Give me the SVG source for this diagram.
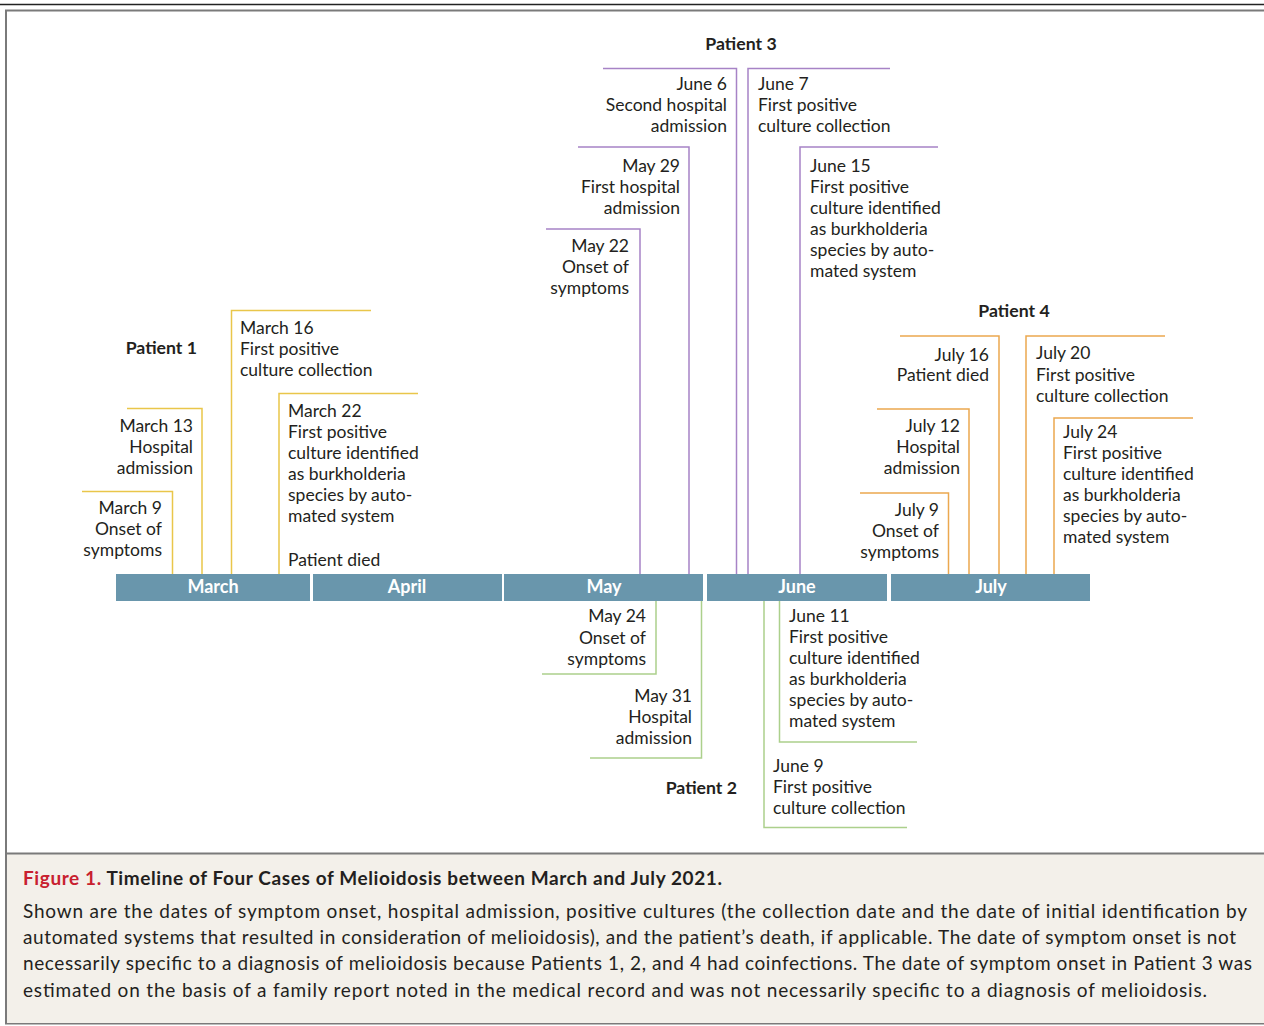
<svg xmlns="http://www.w3.org/2000/svg" width="1264" height="1026" viewBox="0 0 1264 1026">
<style>
.lbl{font-family:Lato,"Open Sans","Liberation Sans",sans-serif;font-size:17.5px;fill:#231f20}
.end{text-anchor:end}
.pt{font-family:Lato,"Open Sans","Liberation Sans",sans-serif;font-size:17.7px;font-weight:bold;fill:#231f20}
.mo{font-family:Lato,"Open Sans","Liberation Sans",sans-serif;font-size:18px;font-weight:bold;fill:#fff;text-anchor:middle}
.bar{fill:#6996ac}
.c{fill:none;stroke-width:1.5}
.y{stroke:#e9c64a}.p{stroke:#a783c6}.o{stroke:#eba84f}.g{stroke:#acd08c}
.cap{font-family:Lato,"Open Sans","Liberation Sans",sans-serif;font-size:19px;fill:#231f20}
</style>
<rect x="0" y="0" width="1264" height="1026" fill="#fff"/>
<line x1="0" y1="4.5" x2="1264" y2="4.5" stroke="#222" stroke-width="1.3"/>
<rect x="6" y="10.5" width="1270" height="1013" fill="none" stroke="#7a7a7a" stroke-width="2"/>
<rect x="7" y="854" width="1260" height="169" fill="#f3f0ea"/>
<line x1="6" y1="853.5" x2="1264" y2="853.5" stroke="#7a7a7a" stroke-width="2"/>

<g id="timeline">
<rect class="bar" x="116" y="574" width="194" height="27"/>
<rect class="bar" x="313" y="574" width="189" height="27"/>
<rect class="bar" x="504" y="574" width="199" height="27"/>
<rect class="bar" x="707" y="574" width="180" height="27"/>
<rect class="bar" x="891" y="574" width="199" height="27"/>
<text class="mo" x="213" y="593">March</text>
<text class="mo" x="407" y="593">April</text>
<text class="mo" x="604" y="593">May</text>
<text class="mo" x="797" y="593">June</text>
<text class="mo" x="991" y="593">July</text>
</g>

<g id="connectors">
<path class="c y" d="M82 491.5H172.5V574"/>
<path class="c y" d="M127 408.5H202V574"/>
<path class="c y" d="M371 310.5H231.5V574"/>
<path class="c y" d="M418 393.5H279V574"/>
<path class="c p" d="M603 68.5H736.5V574"/>
<path class="c p" d="M890 68.5H748V574"/>
<path class="c p" d="M578 147H689V574"/>
<path class="c p" d="M546 229H640V574"/>
<path class="c p" d="M938 147H800V574"/>
<path class="c o" d="M900 336H999V574"/>
<path class="c o" d="M877 409H969V574"/>
<path class="c o" d="M860 493H948.5V574"/>
<path class="c o" d="M1165 336H1026V574"/>
<path class="c o" d="M1193 418H1054V574"/>
<path class="c g" d="M656 601V674H542"/>
<path class="c g" d="M701.5 601V758H590"/>
<path class="c g" d="M779.5 601V742H917"/>
<path class="c g" d="M764 601V827.5H907"/>
</g>

<g id="patient1">
<text class="pt end" x="197" y="354">Patient 1</text>
<g id="p1-mar9"><text class="lbl end" x="162" y="514">March 9</text><text class="lbl end" x="162" y="535">Onset of</text><text class="lbl end" x="162" y="556">symptoms</text></g>
<g id="p1-mar13"><text class="lbl end" x="193" y="432">March 13</text><text class="lbl end" x="193" y="453">Hospital</text><text class="lbl end" x="193" y="474">admission</text></g>
<g id="p1-mar16"><text class="lbl" x="240" y="334">March 16</text><text class="lbl" x="240" y="355">First positive</text><text class="lbl" x="240" y="376">culture collection</text></g>
<g id="p1-mar22"><text class="lbl" x="288" y="417">March 22</text><text class="lbl" x="288" y="438">First positive</text><text class="lbl" x="288" y="459">culture identified</text><text class="lbl" x="288" y="480">as burkholderia</text><text class="lbl" x="288" y="501">species by auto-</text><text class="lbl" x="288" y="522">mated system</text><text class="lbl" x="288" y="566">Patient died</text></g>
</g>

<g id="patient3">
<text class="pt" x="741" y="50" text-anchor="middle">Patient 3</text>
<g id="p3-jun6"><text class="lbl end" x="727" y="90">June 6</text><text class="lbl end" x="727" y="111">Second hospital</text><text class="lbl end" x="727" y="132">admission</text></g>
<g id="p3-jun7"><text class="lbl" x="758" y="90">June 7</text><text class="lbl" x="758" y="111">First positive</text><text class="lbl" x="758" y="132">culture collection</text></g>
<g id="p3-may29"><text class="lbl end" x="680" y="172">May 29</text><text class="lbl end" x="680" y="193">First hospital</text><text class="lbl end" x="680" y="214">admission</text></g>
<g id="p3-may22"><text class="lbl end" x="629" y="252">May 22</text><text class="lbl end" x="629" y="273">Onset of</text><text class="lbl end" x="629" y="294">symptoms</text></g>
<g id="p3-jun15"><text class="lbl" x="810" y="172">June 15</text><text class="lbl" x="810" y="193">First positive</text><text class="lbl" x="810" y="214">culture identified</text><text class="lbl" x="810" y="235">as burkholderia</text><text class="lbl" x="810" y="256">species by auto-</text><text class="lbl" x="810" y="277">mated system</text></g>
</g>

<g id="patient4">
<text class="pt" x="1014" y="317" text-anchor="middle">Patient 4</text>
<g id="p4-jul16"><text class="lbl end" x="989" y="361">July 16</text><text class="lbl end" x="989" y="381">Patient died</text></g>
<g id="p4-jul12"><text class="lbl end" x="960" y="432">July 12</text><text class="lbl end" x="960" y="453">Hospital</text><text class="lbl end" x="960" y="474">admission</text></g>
<g id="p4-jul9"><text class="lbl end" x="939" y="516">July 9</text><text class="lbl end" x="939" y="537">Onset of</text><text class="lbl end" x="939" y="558">symptoms</text></g>
<g id="p4-jul20"><text class="lbl" x="1036" y="359">July 20</text><text class="lbl" x="1036" y="381">First positive</text><text class="lbl" x="1036" y="402">culture collection</text></g>
<g id="p4-jul24"><text class="lbl" x="1063" y="438">July 24</text><text class="lbl" x="1063" y="459">First positive</text><text class="lbl" x="1063" y="480">culture identified</text><text class="lbl" x="1063" y="501">as burkholderia</text><text class="lbl" x="1063" y="522">species by auto-</text><text class="lbl" x="1063" y="543">mated system</text></g>
</g>

<g id="patient2">
<text class="pt end" x="737" y="794">Patient 2</text>
<g id="p2-may24"><text class="lbl end" x="646" y="622">May 24</text><text class="lbl end" x="646" y="644">Onset of</text><text class="lbl end" x="646" y="665">symptoms</text></g>
<g id="p2-may31"><text class="lbl end" x="692" y="702">May 31</text><text class="lbl end" x="692" y="723">Hospital</text><text class="lbl end" x="692" y="744">admission</text></g>
<g id="p2-jun11"><text class="lbl" x="789" y="622">June 11</text><text class="lbl" x="789" y="643">First positive</text><text class="lbl" x="789" y="664">culture identified</text><text class="lbl" x="789" y="685">as burkholderia</text><text class="lbl" x="789" y="706">species by auto-</text><text class="lbl" x="789" y="727">mated system</text></g>
<g id="p2-jun9"><text class="lbl" x="773" y="772">June 9</text><text class="lbl" x="773" y="793">First positive</text><text class="lbl" x="773" y="814">culture collection</text></g>
</g>

<g id="caption">
<text class="cap" x="23" y="885" font-weight="bold" textLength="699" lengthAdjust="spacing"><tspan fill="#c8202f">Figure 1.</tspan> Timeline of Four Cases of Melioidosis between March and July 2021.</text>
<text class="cap" x="23" y="918" textLength="1224" lengthAdjust="spacing">Shown are the dates of symptom onset, hospital admission, positive cultures (the collection date and the date of initial identification by</text>
<text class="cap" x="23" y="944" textLength="1213" lengthAdjust="spacing">automated systems that resulted in consideration of melioidosis), and the patient’s death, if applicable. The date of symptom onset is not</text>
<text class="cap" x="23" y="970" textLength="1229" lengthAdjust="spacing">necessarily specific to a diagnosis of melioidosis because Patients 1, 2, and 4 had coinfections. The date of symptom onset in Patient 3 was</text>
<text class="cap" x="23" y="997" textLength="1184" lengthAdjust="spacing">estimated on the basis of a family report noted in the medical record and was not necessarily specific to a diagnosis of melioidosis.</text>
</g>
</svg>
